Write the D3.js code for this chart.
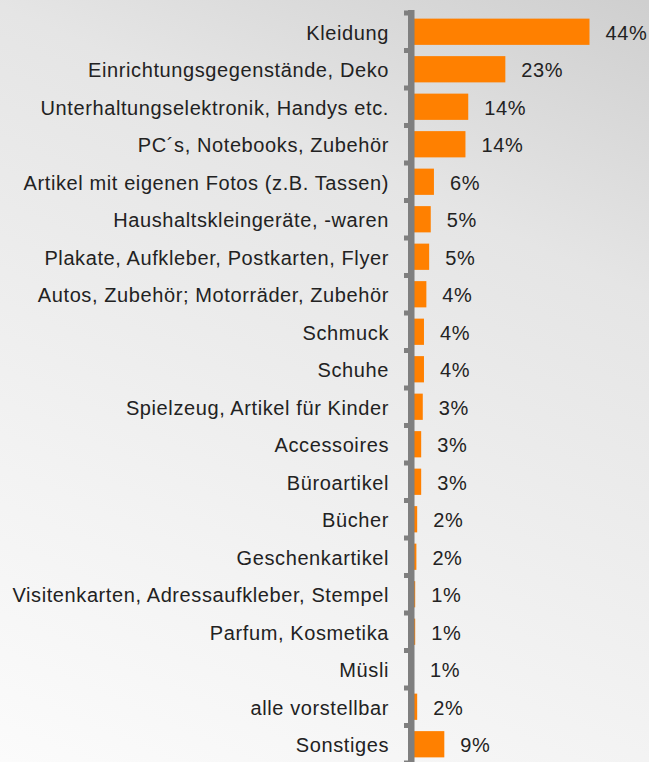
<!DOCTYPE html>
<html>
<head>
<meta charset="utf-8">
<script src="https://cdn.jsdelivr.net/npm/d3@7"></script>
<style>
  body { margin: 0; background: #fff; }
  svg { display: block; }
  text { font-family: "Liberation Sans", Arial, sans-serif; font-size: 20px; fill: #222; letter-spacing: 0.6px; }
</style>
</head>
<body>
<svg id="chart" width="649" height="762"></svg>
<script>
// categories, top to bottom
const categories = [
    "Kleidung", "Einrichtungsgegenstände, Deko", "Unterhaltungselektronik, Handys etc.",
    "PC´s, Notebooks, Zubehör", "Artikel mit eigenen Fotos (z.B. Tassen)", "Haushaltskleingeräte, -waren",
    "Plakate, Aufkleber, Postkarten, Flyer", "Autos, Zubehör; Motorräder, Zubehör", "Schmuck",
    "Schuhe", "Spielzeug, Artikel für Kinder", "Accessoires", "Büroartikel", "Bücher",
    "Geschenkartikel", "Visitenkarten, Adressaufkleber, Stempel", "Parfum, Kosmetika", "Müsli",
    "alle vorstellbar", "Sonstiges"
];
// bar lengths (percent)
const shares = [44, 22.9, 13.6, 12.9, 5.0, 4.2, 3.8, 3.1, 2.5, 2.5, 2.2, 1.8, 1.8, 0.8, 0.6, 0.3, 0.3, 0, 0.8, 7.6];
// printed value labels
const shareLabels = ["44%", "23%", "14%", "14%", "6%", "5%", "5%", "4%", "4%", "4%", "3%", "3%", "3%",
    "2%", "2%", "1%", "1%", "1%", "2%", "9%"];

const svg = d3.select("#chart");
const width = +svg.attr("width");
const height = +svg.attr("height");

// background gradient
const defs = svg.append("defs");
const grad = defs.append("linearGradient")
    .attr("id", "bg")
    .attr("gradientUnits", "userSpaceOnUse")
    .attr("x1", 0).attr("y1", 762)
    .attr("x2", 393).attr("y2", -111);
[[0, "#fbfbfb"], [0.28, "#f3f3f3"], [0.72, "#e5e5e5"], [1, "#cfcfcf"]].forEach(s => {
    grad.append("stop").attr("offset", s[0]).attr("stop-color", s[1]);
});
svg.append("rect").attr("width", width).attr("height", height).attr("fill", "url(#bg)");

const x = d3.scaleLinear().domain([0, 44]).range([414, 589.5]);
const y = d3.scaleBand().domain(categories).range([13, 763]).paddingInner(0.3).paddingOuter(0.15);

// bars
svg.append("g")
    .selectAll("rect")
    .data(categories)
    .enter().append("rect")
    .attr("x", x(0))
    .attr("y", d => y(d))
    .attr("width", (d, i) => x(shares[i]) - x(0))
    .attr("height", y.bandwidth())
    .attr("fill", "#ff8000");

// axis line with small ticks at category boundaries
const gap = (y.step() - y.bandwidth()) / 2;
const bounds = categories.map(c => y(c) - gap).concat([y(categories[categories.length - 1]) + y.bandwidth() + gap]);
const axis = svg.append("g");
axis.append("rect")
    .attr("x", 408).attr("y", 10)
    .attr("width", 6.5).attr("height", height - 10)
    .attr("fill", "#7f7f7f");
axis.selectAll(".tick")
    .data(bounds)
    .enter().append("rect")
    .attr("class", "tick")
    .attr("x", 404).attr("y", d => d - 2.5)
    .attr("width", 4).attr("height", 5)
    .attr("fill", "#7f7f7f");

// category labels
svg.append("g")
    .selectAll("text")
    .data(categories)
    .enter().append("text")
    .attr("x", 389)
    .attr("y", d => y(d) + y.bandwidth() / 2 + 8)
    .attr("text-anchor", "end")
    .text(d => d);

// value labels
svg.append("g")
    .selectAll("text")
    .data(categories)
    .enter().append("text")
    .attr("x", (d, i) => x(shares[i]) + 16)
    .attr("y", d => y(d) + y.bandwidth() / 2 + 8)
    .text((d, i) => shareLabels[i]);
</script>
</body>
</html>
